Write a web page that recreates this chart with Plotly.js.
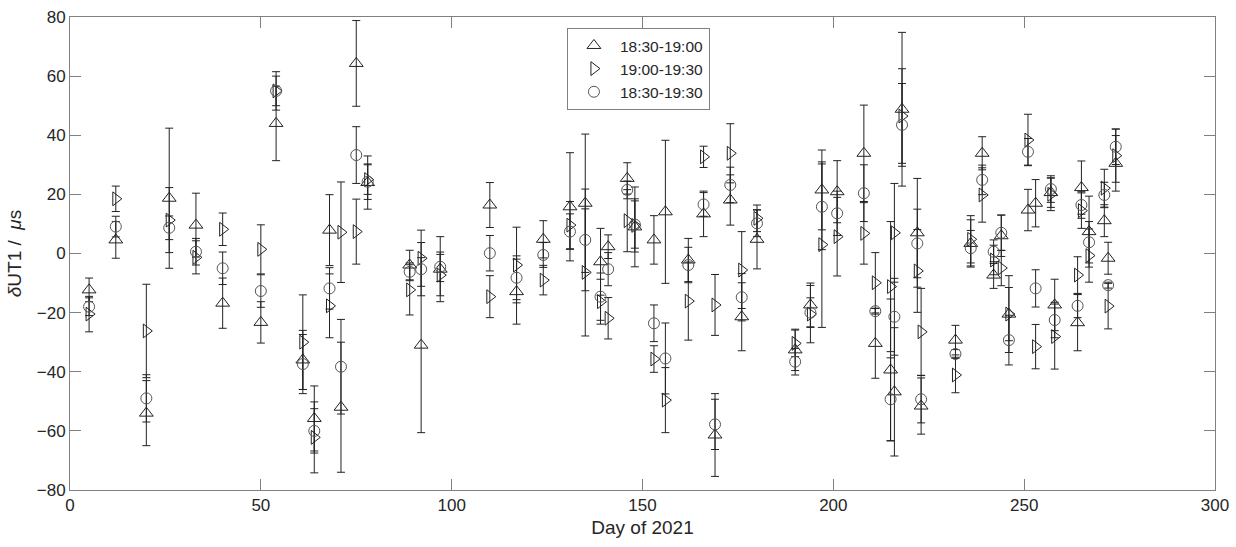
<!DOCTYPE html>
<html>
<head>
<meta charset="utf-8">
<script src="https://cdn.plot.ly/plotly-3.0.1.min.js"></script>
<style>html,body{margin:0;padding:0;background:#fff;}#chart{width:1236px;height:547px;}</style>
</head>
<body>
<div id="chart"></div>
<script>
// Day of 2021 for each observation group
const days = [5,12,20,26,33,40,50,54,61,64,68,71,75,78,89,92,97,110,117,124,131,135,139,141,146,148,153,156,162,166,169,173,176,180,190,194,197,201,208,211,215,216,218,222,223,232,236,239,242,244,246,251,253,257,258,264,265,267,271,272,274];

// 18:30-19:00 (triangle up)
const upVal = [-12.3,4.6,-54,18.7,9.6,-16.8,-23.3,44,-36,-55.8,7.9,-52,64.3,24,-3.9,-31,-5.3,16.4,-12.9,4.8,15.8,17,-2.8,2.3,25.4,9,4.6,14.1,-2.2,13.4,-61.4,18.1,-21.4,4.8,-32.6,-17.4,21.5,20.9,33.9,-30.4,-39.4,-46.8,48.8,7,-51.6,-29.3,3.4,33.9,-7.3,6,-20.5,14.7,17,20.6,-17.4,-23.4,22.3,7.4,11.1,-1.6,30.5];
const upErr = [4,6.2,11,23.7,10.8,8.5,7,12.6,10,11,12,22,14.5,9,5,29.6,11,7.6,11,6.3,18.3,23.4,11.3,4,5.3,13.5,8.2,24.2,7.3,7.7,14,8.5,11.5,10,7,7.4,13.5,10.5,16.3,11.8,24,21.7,26,18.4,9.5,5,8,5.6,4.5,7,13,7,8,5,8.7,9.5,9,12,5.4,5.4,9.4];

// 19:00-19:30 (triangle right)
const rightVal = [-20.5,18.5,-26.2,11.3,-1.3,8.2,1.4,55,-30,-62.2,-17.7,7.2,7.4,25,-12.3,-1.6,-7.3,-14.6,-3.9,-9,9.6,-6.4,-16.3,-21.9,11.1,9.5,-35.7,-49.6,-16.1,32.7,-17.4,33.9,-5.6,11.9,-30.4,-20.5,3,5.7,6.8,-9.9,-11.2,7,46.5,-5.9,-26.5,-41.1,4.8,19.8,-2.2,-4.9,-20.5,38.4,-31.5,20,-28.1,-7.3,14.5,-0.7,22.1,-17.8,33.1];
const rightErr = [6,4.3,15.8,11,5.6,5.5,8.3,6.5,16,12,10.8,17,11,5,8.5,9.5,7,7.1,12.8,5,8,21.5,7.6,7,10.5,9,4.5,11,13.2,3.6,10.3,10,13,4.5,4.5,9.7,28,13.3,10.4,10.2,22,16.7,16,14,14.7,6,8,9.2,5,6,9,8.7,7.5,5.5,11,6.2,6,9,6.4,7.7,9];

// 18:30-19:30 (circle)
const circVal = [-18,9.1,-49,8.7,0.6,-5,-12.7,55,-37.4,-60,-11.8,-38.3,33.3,24.3,-6.2,-5.3,-4.5,0.1,-8.2,-0.5,7.4,4.6,-14.6,-5.3,21.5,9.8,-23.6,-35.5,-3.9,16.6,-57.8,23.2,-14.8,10.2,-36.6,-20,15.8,13.6,20.4,-19.5,-49.3,-21.4,43.5,3.4,-49.3,-34,1.8,24.9,0.6,7,-29.3,34.4,-11.8,21.8,-22.5,-17.7,16.4,3.8,19.8,-10.7,36.1];
const circErr = [3,3.5,8,4,4.5,5.5,5.5,5,10,7.5,7,16,9.6,6,3,9,5,6,7.4,4.2,6,17.2,8,5.6,3,8,6.2,12,6,4,8.5,6,8,4.5,4.5,5,14.5,7.5,9.6,1,14,13,14,11.6,8,1.5,6,5,4,6,8.4,4.5,6.3,4.5,6,4,4.5,7,4.3,1,6];

const seriesNames = ['18:30-19:00','19:00-19:30','18:30-19:30'];

function makeTrace(name, vals, errs, symbol, size, col) {
  return {
    type: 'scatter', mode: 'markers', name: name,
    x: days, y: vals,
    marker: {symbol: symbol, size: size, color: col, line: {color: col, width: 1}},
    error_y: {type: 'data', array: errs, visible: true, color: '#222', thickness: 1, width: 4},
    cliponaxis: false
  };
}

const traces = [
  makeTrace(seriesNames[0], upVal, upErr, 'triangle-up-open', 12, '#222'),
  makeTrace(seriesNames[1], rightVal, rightErr, 'triangle-right-open', 12, '#222'),
  makeTrace(seriesNames[2], circVal, circErr, 'circle-open', 11, '#555')
];

const FONT = 'Liberation Sans, Arial, Helvetica, sans-serif';

const axisCommon = {
  showline: true, mirror: 'ticks', linecolor: '#808080', linewidth: 1,
  ticks: 'inside', ticklen: 11, tickcolor: '#808080', tickwidth: 1,
  showgrid: false, zeroline: false,
  tickfont: {family: FONT, size: 17, color: '#262626'}
};

const layout = {
  width: 1236, height: 547,
  margin: {l: 70, r: 21, t: 17, b: 57},
  paper_bgcolor: '#fff', plot_bgcolor: '#fff',
  showlegend: true,
  legend: {
    x: 0.434, y: 0.977, xanchor: 'left', yanchor: 'top',
    bgcolor: '#fff', bordercolor: '#808080', borderwidth: 1,
    font: {family: FONT, size: 15.5, color: '#262626'},
    tracegroupgap: 0, itemwidth: 42
  },
  xaxis: Object.assign({}, axisCommon, {
    range: [0, 300], tickvals: [0,50,100,150,200,250,300],
    title: {text: 'Day of 2021', font: {family: FONT, size: 19, color: '#262626'}, standoff: 6}
  }),
  yaxis: Object.assign({}, axisCommon, {
    range: [-80, 80], tickvals: [-80,-60,-40,-20,0,20,40,60,80],
    title: {text: '<i>δ</i>UT1 /  <i>μ</i>s', font: {family: FONT, size: 19, color: '#262626'}, standoff: 10}
  }),
  font: {family: FONT, color: '#262626'}
};

Plotly.newPlot('chart', traces, layout, {displayModeBar: false, staticPlot: true});
</script>
</body>
</html>
